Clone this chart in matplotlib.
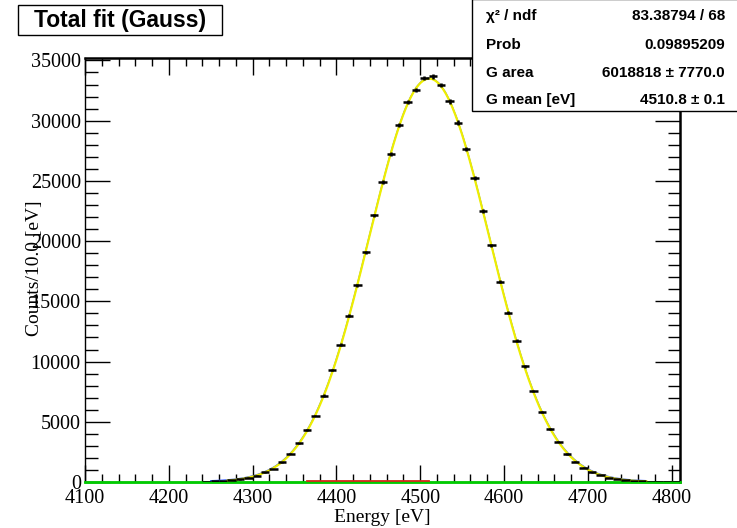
import numpy as np
import matplotlib
matplotlib.use("Agg")
import matplotlib.pyplot as plt
from matplotlib.patches import Rectangle

# ------------------------------------------------------------
# Total fit (Gauss) - energy spectrum, 10 eV bins
# ------------------------------------------------------------

# Bin centres [eV] and counts per bin
bin_centres = np.arange(4105, 4806, 10)
counts = [
    0, 0, 0, 0, 0, 0, 0, 0, 0, 0, 0, 0, 0, 0,
    30, 60, 100, 140, 220, 360, 520, 800, 1080, 1640,
    2360, 3220, 4330, 5520, 7180, 9320, 11400, 13810, 16330, 19080,
    22130, 24930, 27260, 29620, 31560, 32530, 33530, 33670, 32950, 31590,
    29840, 27620, 25270, 22490, 19640, 16610, 14040, 11730, 9600, 7570,
    5800, 4380, 3350, 2330, 1690, 1190, 800, 580, 330, 240,
    150, 100, 60, 35, 20, 10, 5,
]
bin_width = 10.0

# Fit results (stats box)
G_area = 6018818.0
G_mean = 4510.8
G_sigma = 71.7          # not printed in the box, estimated from peak height
fit_lo, fit_hi = 4250, 4770
bkg_lo, bkg_hi = 4365, 4510
bkg_level = 60.0

stats_labels = ["\u03c7\u00b2 / ndf", "Prob", "G area", "G mean [eV]"]
stats_values = ["83.38794 / 68", "0.09895209", "6018818 \u00b1 7770.0", "4510.8 \u00b1 0.1"]

W, H = 737, 528
fig = plt.figure(figsize=(W / 100, H / 100), dpi=100)
ax = fig.add_axes([85 / W, (H - 482) / H, 595 / W, (482 - 58) / H])

serif = "Liberation Serif"
sans = "Liberation Sans"


def gauss(x):
    return G_area / (G_sigma * np.sqrt(2 * np.pi)) * np.exp(-0.5 * ((x - G_mean) / G_sigma) ** 2)


counts = np.array(counts, dtype=float)
shown = counts > 0

# background-ish components at zero
ax.plot([4100, 4810], [0, 0], color="#00cc00", lw=2, zorder=3, clip_on=False)
ax.plot([bkg_lo, bkg_hi], [bkg_level, bkg_level], color="#d42a1a", lw=1.3, zorder=3)

# total fit (blue, coarse) and gauss component (yellow)
xb = np.arange(fit_lo, fit_hi + 1, 7.0)
ax.plot(xb, gauss(xb) + 60, color="#3a5cff", lw=1.0, zorder=3)
xy = np.linspace(4270, fit_hi, 400)
ax.plot(xy, gauss(xy), color="#eeee00", lw=1.6, zorder=4)

# data points
ax.errorbar(bin_centres[shown], counts[shown], xerr=bin_width / 2,
            yerr=np.sqrt(counts[shown]), fmt="none", ecolor="black",
            elinewidth=1.8, capsize=0, zorder=5)

ax.set_xlim(4100, 4810)
ax.set_ylim(0, 35200)
ax.set_xticks(np.arange(4100, 4801, 100))
ax.set_xticks(np.arange(4100, 4811, 20), minor=True)
ax.set_yticks(np.arange(0, 35001, 5000))
ax.set_yticks(np.arange(0, 35001, 1000), minor=True)
ax.tick_params(which="both", direction="in", top=True, right=True, width=1)
ax.tick_params(axis="x", which="major", length=12, pad=5)
ax.tick_params(axis="x", which="minor", length=6)
ax.tick_params(axis="y", which="major", length=18, pad=3)
ax.tick_params(axis="y", which="minor", length=9)
for lab in ax.get_xticklabels() + ax.get_yticklabels():
    lab.set_fontfamily(serif)
    lab.set_fontsize(14.5)
for side in ["left", "bottom"]:
    ax.spines[side].set_linewidth(1.0)
for side in ["right", "top"]:
    ax.spines[side].set_linewidth(1.8)

fig.text(382 / W, 1 - 517 / H, "Energy [eV]", family=serif, fontsize=14,
         ha="center", va="center")
fig.text(35 / W, 1 - 268 / H, "Counts/10.0 [eV]", family=serif, fontsize=14,
         ha="center", va="center", rotation=90)

# title box
fig.patches.append(Rectangle((18 / W, 1 - 35 / H), 204 / W, 30 / H,
                             transform=fig.transFigure, fill=True,
                             facecolor="white", edgecolor="black", lw=1))
fig.text(120 / W, 1 - 20.5 / H, "Total fit (Gauss)", family=sans,
         fontweight="bold", fontsize=16.5, ha="center", va="center")

# stats box
fig.patches.append(Rectangle((472 / W, 1 - 111 / H), 270 / W, 112 / H,
                             transform=fig.transFigure, fill=True,
                             facecolor="white", edgecolor="black", lw=1, zorder=10))
for i, (lab, val) in enumerate(zip(stats_labels, stats_values)):
    yy = 1 - [16, 45, 73, 100][i] / H
    fig.text(486 / W, yy, lab, family=sans, fontweight="bold", fontsize=11,
             ha="left", va="center", zorder=11)
    fig.text(725 / W, yy, val, family=sans, fontweight="bold", fontsize=11,
             ha="right", va="center", zorder=11)

fig.savefig("out.png", dpi=100)
